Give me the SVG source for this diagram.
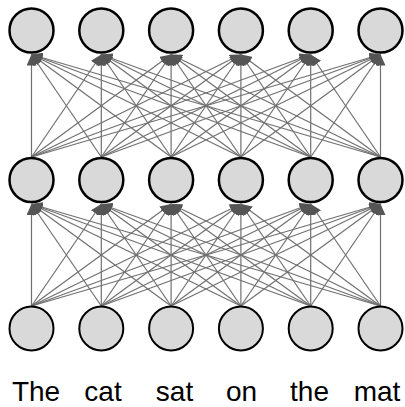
<svg xmlns="http://www.w3.org/2000/svg" width="405" height="407" viewBox="0 0 405 407">
<defs>
<style>
.n{fill:#d9d9d9;stroke:#000;stroke-width:2.5}
.nb{fill:#d9d9d9;stroke:#000;stroke-width:2}
.e line{stroke:#707070;stroke-width:1.2;marker-end:url(#ah)}
.t{font-family:"Liberation Sans",Arial,sans-serif;font-size:28px;fill:#000;text-anchor:middle}
</style>
<marker id="ah" markerUnits="userSpaceOnUse" markerWidth="12" markerHeight="10" refX="11" refY="5" orient="auto"><path d="M0,0 L11,5 L0,10 z" fill="#555"/></marker>
</defs>
<g id="connectors" class="e">
<line x1="31.5" y1="306" x2="31.5" y2="204"/><line x1="101.3" y1="306" x2="31.5" y2="204"/><line x1="171.1" y1="306" x2="31.5" y2="204"/><line x1="240.9" y1="306" x2="31.5" y2="204"/><line x1="310.7" y1="306" x2="31.5" y2="204"/><line x1="380.5" y1="306" x2="31.5" y2="204"/>
<line x1="31.5" y1="306" x2="101.3" y2="204"/><line x1="101.3" y1="306" x2="101.3" y2="204"/><line x1="171.1" y1="306" x2="101.3" y2="204"/><line x1="240.9" y1="306" x2="101.3" y2="204"/><line x1="310.7" y1="306" x2="101.3" y2="204"/><line x1="380.5" y1="306" x2="101.3" y2="204"/>
<line x1="31.5" y1="306" x2="171.1" y2="204"/><line x1="101.3" y1="306" x2="171.1" y2="204"/><line x1="171.1" y1="306" x2="171.1" y2="204"/><line x1="240.9" y1="306" x2="171.1" y2="204"/><line x1="310.7" y1="306" x2="171.1" y2="204"/><line x1="380.5" y1="306" x2="171.1" y2="204"/>
<line x1="31.5" y1="306" x2="240.9" y2="204"/><line x1="101.3" y1="306" x2="240.9" y2="204"/><line x1="171.1" y1="306" x2="240.9" y2="204"/><line x1="240.9" y1="306" x2="240.9" y2="204"/><line x1="310.7" y1="306" x2="240.9" y2="204"/><line x1="380.5" y1="306" x2="240.9" y2="204"/>
<line x1="31.5" y1="306" x2="310.7" y2="204"/><line x1="101.3" y1="306" x2="310.7" y2="204"/><line x1="171.1" y1="306" x2="310.7" y2="204"/><line x1="240.9" y1="306" x2="310.7" y2="204"/><line x1="310.7" y1="306" x2="310.7" y2="204"/><line x1="380.5" y1="306" x2="310.7" y2="204"/>
<line x1="31.5" y1="306" x2="380.5" y2="204"/><line x1="101.3" y1="306" x2="380.5" y2="204"/><line x1="171.1" y1="306" x2="380.5" y2="204"/><line x1="240.9" y1="306" x2="380.5" y2="204"/><line x1="310.7" y1="306" x2="380.5" y2="204"/><line x1="380.5" y1="306" x2="380.5" y2="204"/>
<line x1="31.5" y1="157" x2="31.5" y2="54.5"/><line x1="101.3" y1="157" x2="31.5" y2="54.5"/><line x1="171.1" y1="157" x2="31.5" y2="54.5"/><line x1="240.9" y1="157" x2="31.5" y2="54.5"/><line x1="310.7" y1="157" x2="31.5" y2="54.5"/><line x1="380.5" y1="157" x2="31.5" y2="54.5"/>
<line x1="31.5" y1="157" x2="101.3" y2="54.5"/><line x1="101.3" y1="157" x2="101.3" y2="54.5"/><line x1="171.1" y1="157" x2="101.3" y2="54.5"/><line x1="240.9" y1="157" x2="101.3" y2="54.5"/><line x1="310.7" y1="157" x2="101.3" y2="54.5"/><line x1="380.5" y1="157" x2="101.3" y2="54.5"/>
<line x1="31.5" y1="157" x2="171.1" y2="54.5"/><line x1="101.3" y1="157" x2="171.1" y2="54.5"/><line x1="171.1" y1="157" x2="171.1" y2="54.5"/><line x1="240.9" y1="157" x2="171.1" y2="54.5"/><line x1="310.7" y1="157" x2="171.1" y2="54.5"/><line x1="380.5" y1="157" x2="171.1" y2="54.5"/>
<line x1="31.5" y1="157" x2="240.9" y2="54.5"/><line x1="101.3" y1="157" x2="240.9" y2="54.5"/><line x1="171.1" y1="157" x2="240.9" y2="54.5"/><line x1="240.9" y1="157" x2="240.9" y2="54.5"/><line x1="310.7" y1="157" x2="240.9" y2="54.5"/><line x1="380.5" y1="157" x2="240.9" y2="54.5"/>
<line x1="31.5" y1="157" x2="310.7" y2="54.5"/><line x1="101.3" y1="157" x2="310.7" y2="54.5"/><line x1="171.1" y1="157" x2="310.7" y2="54.5"/><line x1="240.9" y1="157" x2="310.7" y2="54.5"/><line x1="310.7" y1="157" x2="310.7" y2="54.5"/><line x1="380.5" y1="157" x2="310.7" y2="54.5"/>
<line x1="31.5" y1="157" x2="380.5" y2="54.5"/><line x1="101.3" y1="157" x2="380.5" y2="54.5"/><line x1="171.1" y1="157" x2="380.5" y2="54.5"/><line x1="240.9" y1="157" x2="380.5" y2="54.5"/><line x1="310.7" y1="157" x2="380.5" y2="54.5"/><line x1="380.5" y1="157" x2="380.5" y2="54.5"/>
</g>
<g id="top-1"><circle class="n" cx="31.5" cy="30.5" r="22"/></g>
<g id="top-2"><circle class="n" cx="101.3" cy="30.5" r="22"/></g>
<g id="top-3"><circle class="n" cx="171.1" cy="30.5" r="22"/></g>
<g id="top-4"><circle class="n" cx="240.9" cy="30.5" r="22"/></g>
<g id="top-5"><circle class="n" cx="310.7" cy="30.5" r="22"/></g>
<g id="top-6"><circle class="n" cx="380.5" cy="30.5" r="22"/></g>
<g id="mid-1"><circle class="n" cx="31.5" cy="180" r="22"/></g>
<g id="mid-2"><circle class="n" cx="101.3" cy="180" r="22"/></g>
<g id="mid-3"><circle class="n" cx="171.1" cy="180" r="22"/></g>
<g id="mid-4"><circle class="n" cx="240.9" cy="180" r="22"/></g>
<g id="mid-5"><circle class="n" cx="310.7" cy="180" r="22"/></g>
<g id="mid-6"><circle class="n" cx="380.5" cy="180" r="22"/></g>
<g id="in-1"><circle class="nb" cx="31.5" cy="328.5" r="22"/><text class="t" x="36" y="400.5">The</text></g>
<g id="in-2"><circle class="nb" cx="101.3" cy="328.5" r="22"/><text class="t" x="103" y="400.5">cat</text></g>
<g id="in-3"><circle class="nb" cx="171.1" cy="328.5" r="22"/><text class="t" x="174.5" y="400.5">sat</text></g>
<g id="in-4"><circle class="nb" cx="240.9" cy="328.5" r="22"/><text class="t" x="241.5" y="400.5">on</text></g>
<g id="in-5"><circle class="nb" cx="310.7" cy="328.5" r="22"/><text class="t" x="309.5" y="400.5">the</text></g>
<g id="in-6"><circle class="nb" cx="380.5" cy="328.5" r="22"/><text class="t" x="377" y="400.5">mat</text></g>
</svg>
